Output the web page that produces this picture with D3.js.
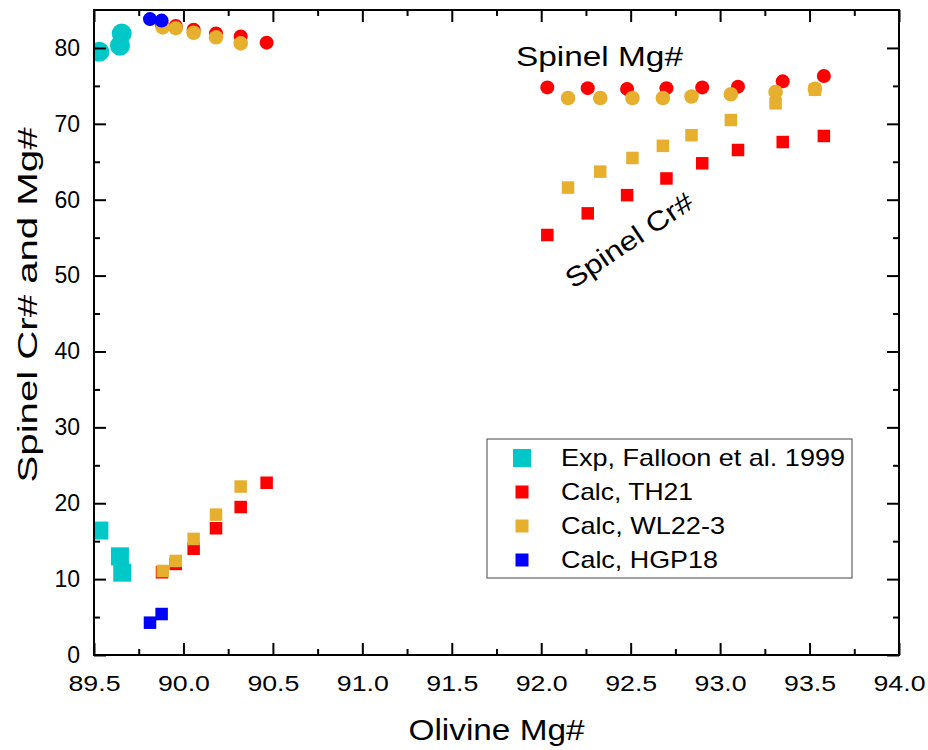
<!DOCTYPE html>
<html><head><meta charset="utf-8">
<script src="https://cdn.jsdelivr.net/npm/d3@7"></script>
<style>
html,body{margin:0;padding:0;background:#fff;}
svg{display:block;font-family:"Liberation Sans",Arial,sans-serif;}
</style></head>
<body><svg id="chart" width="928" height="750"></svg>
<script>
// ---- data ----
const expCircX = [89.53, 89.655, 89.645];
const expCircY = [79.5, 81.9, 80.3];
const expSqX = [89.53, 89.645, 89.658];
const expSqY = [16.4, 13.0, 10.85];

const th21CircX = [89.88, 89.957, 90.057, 90.182, 90.32, 90.465, 92.034, 92.26, 92.48, 92.70, 92.90, 93.10, 93.35, 93.58];
const th21CircY = [83.0, 82.9, 82.4, 81.9, 81.5, 80.7, 74.8, 74.7, 74.6, 74.7, 74.8, 74.9, 75.6, 76.3];
const th21SqX = [89.88, 89.957, 90.057, 90.182, 90.32, 90.465, 92.034, 92.26, 92.48, 92.70, 92.90, 93.10, 93.35, 93.58];
const th21SqY = [10.9, 12.0, 14.0, 16.7, 19.5, 22.7, 55.35, 58.2, 60.6, 62.8, 64.8, 66.55, 67.6, 68.4];

const wlCircX = [89.884, 89.957, 90.057, 90.182, 90.32, 92.15, 92.33, 92.51, 92.68, 92.84, 93.06, 93.31, 93.53];
const wlCircY = [82.7, 82.6, 82.0, 81.4, 80.6, 73.4, 73.4, 73.4, 73.4, 73.6, 73.9, 74.2, 74.6];
const wlSqX = [89.884, 89.957, 90.057, 90.182, 90.32, 92.15, 92.33, 92.51, 92.68, 92.84, 93.06, 93.31, 93.53];
const wlSqY = [11.07, 12.4, 15.3, 18.5, 22.2, 61.6, 63.7, 65.5, 67.1, 68.5, 70.5, 72.7, 74.5];

const hgpCircX = [89.813, 89.878];
const hgpCircY = [83.8, 83.6];
const hgpSqX = [89.813, 89.878];
const hgpSqY = [4.26, 5.4];

const xMajorTicks = [89.5, 90.0, 90.5, 91.0, 91.5, 92.0, 92.5, 93.0, 93.5, 94.0];
const xMinorTicks = [89.75, 90.25, 90.75, 91.25, 91.75, 92.25, 92.75, 93.25, 93.75];
const yMajorTicks = [0, 10, 20, 30, 40, 50, 60, 70, 80];
const yMinorTicks = [5, 15, 25, 35, 45, 55, 65, 75];

const seriesNames = ["Exp, Falloon et al. 1999", "Calc, TH21", "Calc, WL22-3", "Calc, HGP18"];
const seriesColors = ["#00C8C8", "#FF0000", "#E6AF2E", "#0000FF"];
const legendTextWidths = [284, 132, 164, 157];

// ---- layout ----
const W = 928, H = 750;
const m = {left: 94, right: 29, top: 10, bottom: 95};
const svg = d3.select("#chart");
const x = d3.scaleLinear().domain([89.5, 94.0]).range([m.left, W - m.right]);
const y = d3.scaleLinear().domain([0, 85]).range([H - m.bottom, m.top]);

svg.append("defs").append("clipPath").attr("id", "clip")
  .append("rect").attr("x", m.left).attr("y", m.top)
  .attr("width", W - m.left - m.right).attr("height", H - m.top - m.bottom);

const plot = svg.append("g").attr("clip-path", "url(#clip)");

function zip(xs, ys) { return xs.map((v, i) => [v, ys[i]]); }
function circles(data, color, r) {
  plot.append("g").selectAll("circle").data(data).join("circle")
    .attr("cx", d => x(d[0])).attr("cy", d => y(d[1])).attr("r", r).attr("fill", color);
}
function squares(data, color, s) {
  plot.append("g").selectAll("rect").data(data).join("rect")
    .attr("x", d => x(d[0]) - s / 2).attr("y", d => y(d[1]) - s / 2)
    .attr("width", s).attr("height", s).attr("fill", color);
}

circles(zip(expCircX, expCircY), seriesColors[0], 10);
squares(zip(expSqX, expSqY), seriesColors[0], 18);
circles(zip(th21CircX, th21CircY), seriesColors[1], 7);
squares(zip(th21SqX, th21SqY), seriesColors[1], 12.5);
circles(zip(wlCircX, wlCircY), seriesColors[2], 7.3);
squares(zip(wlSqX, wlSqY), seriesColors[2], 12.5);
circles(zip(hgpCircX, hgpCircY), seriesColors[3], 7);
squares(zip(hgpSqX, hgpSqY), seriesColors[3], 12.5);

// ---- axes ----
const bottomY = H - m.bottom, rightX = W - m.right;
function styleAxis(g) { g.select(".domain").remove(); g.selectAll("line").attr("stroke", "#000").attr("stroke-width", 2); }

svg.append("g").attr("transform", `translate(0,${bottomY})`)
  .call(d3.axisBottom(x).tickValues(xMajorTicks).tickSize(-12).tickPadding(20).tickFormat(d3.format(".1f")))
  .call(styleAxis)
  .call(g => g.selectAll("text").attr("font-size", 22).attr("fill", "#000")
    .attr("font-family", "Liberation Sans, Arial, sans-serif")
    .attr("textLength", 52).attr("lengthAdjust", "spacingAndGlyphs"));
svg.append("g").attr("transform", `translate(0,${bottomY})`)
  .call(d3.axisBottom(x).tickValues(xMinorTicks).tickSize(-6).tickFormat(""))
  .call(styleAxis);
svg.append("g").attr("transform", `translate(0,${m.top})`)
  .call(d3.axisTop(x).tickValues(xMajorTicks).tickSize(-12).tickFormat(""))
  .call(styleAxis);
svg.append("g").attr("transform", `translate(0,${m.top})`)
  .call(d3.axisTop(x).tickValues(xMinorTicks).tickSize(-6).tickFormat(""))
  .call(styleAxis);

svg.append("g").attr("transform", `translate(${m.left},0)`)
  .call(d3.axisLeft(y).tickValues(yMajorTicks).tickSize(-12).tickPadding(14).tickFormat(d3.format("d")))
  .call(styleAxis)
  .call(g => g.selectAll("text").attr("font-size", 23).attr("fill", "#000")
    .attr("font-family", "Liberation Sans, Arial, sans-serif"));
svg.append("g").attr("transform", `translate(${m.left},0)`)
  .call(d3.axisLeft(y).tickValues(yMinorTicks).tickSize(-6).tickFormat(""))
  .call(styleAxis);
svg.append("g").attr("transform", `translate(${rightX},0)`)
  .call(d3.axisRight(y).tickValues(yMajorTicks).tickSize(-12).tickFormat(""))
  .call(styleAxis);
svg.append("g").attr("transform", `translate(${rightX},0)`)
  .call(d3.axisRight(y).tickValues(yMinorTicks).tickSize(-6).tickFormat(""))
  .call(styleAxis);

svg.append("rect").attr("x", m.left).attr("y", m.top)
  .attr("width", rightX - m.left).attr("height", bottomY - m.top)
  .attr("fill", "none").attr("stroke", "#000").attr("stroke-width", 2);

// ---- titles ----
svg.append("text").attr("x", (m.left + rightX) / 2).attr("y", 740)
  .attr("text-anchor", "middle").attr("font-size", 30)
  .attr("textLength", 176).attr("lengthAdjust", "spacingAndGlyphs")
  .text("Olivine Mg#");
svg.append("text").attr("transform", "translate(37,305) rotate(-90)")
  .attr("text-anchor", "middle").attr("font-size", 27)
  .attr("textLength", 355).attr("lengthAdjust", "spacingAndGlyphs")
  .text("Spinel Cr# and Mg#");

// ---- annotations ----
svg.append("text").attr("x", 516).attr("y", 66).attr("font-size", 27)
  .attr("textLength", 167).attr("lengthAdjust", "spacingAndGlyphs")
  .text("Spinel Mg#");
svg.append("text").attr("transform", "translate(629,240) rotate(-34)")
  .attr("text-anchor", "middle").attr("dy", "0.35em").attr("font-size", 27)
  .attr("textLength", 148).attr("lengthAdjust", "spacingAndGlyphs")
  .text("Spinel Cr#");

// ---- legend ----
const lg = svg.append("g");
lg.append("rect").attr("x", 487).attr("y", 439).attr("width", 365).attr("height", 139)
  .attr("fill", "#fff").attr("stroke", "#444").attr("stroke-width", 1);
const rowY = d3.scalePoint().domain(seriesNames).range([458, 560]);
seriesNames.forEach((name, i) => {
  const s = i === 0 ? 18 : 13;
  lg.append("rect").attr("x", 522 - s / 2).attr("y", rowY(name) - s / 2)
    .attr("width", s).attr("height", s).attr("fill", seriesColors[i]);
  lg.append("text").attr("x", 561).attr("y", rowY(name)).attr("dy", "0.35em")
    .attr("font-size", 24).attr("textLength", legendTextWidths[i])
    .attr("lengthAdjust", "spacingAndGlyphs").text(name);
});
</script></body></html>
